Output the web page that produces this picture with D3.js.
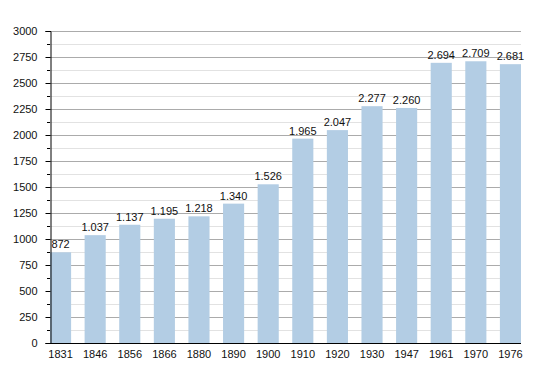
<!DOCTYPE html>
<html>
<head>
<meta charset="utf-8">
<script src="https://cdn.jsdelivr.net/npm/d3@7"></script>
<style>
  body { margin: 0; background: #fff; }
  text { font-family: "Liberation Sans", Arial, sans-serif; }
</style>
</head>
<body>
<div id="chart"></div>
<script>
// population by census year
const years = ["1831","1846","1856","1866","1880","1890","1900","1910","1920","1930","1947","1961","1970","1976"];
const population = [872, 1037, 1137, 1195, 1218, 1340, 1526, 1965, 2047, 2277, 2260, 2694, 2709, 2681];
const yTicks = d3.range(0, 3001, 250);
const yMinor = d3.range(125, 3000, 250);

const width = 550, height = 373;
const plotLeft = 50, plotRight = 521, plotTop = 31, plotBottom = 343;

const svg = d3.select('#chart').append('svg')
  .attr('width', width)
  .attr('height', height);

const x = d3.scaleBand()
  .domain(years)
  .range([plotLeft, plotRight])
  .paddingInner(0.39)
  .paddingOuter(0);

const y = d3.scaleLinear()
  .domain([0, 3000])
  .range([plotBottom, plotTop]);

// minor grid, lighter
svg.append('g').selectAll('line')
  .data(yMinor)
  .join('line')
    .attr('x1', plotLeft).attr('x2', plotRight)
    .attr('y1', d => y(d) + 0.5).attr('y2', d => y(d) + 0.5)
    .attr('stroke', '#e2e2e2');

// major grid
svg.append('g').selectAll('line')
  .data(yTicks.filter(d => d > 0))
  .join('line')
    .attr('x1', plotLeft).attr('x2', plotRight)
    .attr('y1', d => y(d) + 0.5).attr('y2', d => y(d) + 0.5)
    .attr('stroke', '#ababab');

// bars
svg.append('g').selectAll('rect')
  .data(population)
  .join('rect')
    .attr('x', (d, i) => x(years[i]))
    .attr('y', d => y(d))
    .attr('width', x.bandwidth())
    .attr('height', d => y(0) - y(d))
    .attr('fill', '#b3cde4');

// value labels, dot as thousands separator
const fmt = d => d >= 1000 ? Math.floor(d / 1000) + '.' + String(d % 1000).padStart(3, '0') : String(d);
svg.append('g').selectAll('text')
  .data(population)
  .join('text')
    .attr('x', (d, i) => x(years[i]) + x.bandwidth() / 2)
    .attr('y', d => y(d) - 4)
    .attr('text-anchor', 'middle')
    .attr('font-size', 11)
    .attr('fill', '#111')
    .text(fmt);

// y axis
const yAxis = d3.axisLeft(y).tickValues(yTicks).tickFormat(d3.format('d')).tickSize(5).tickPadding(8);
const gy = svg.append('g')
  .attr('transform', `translate(${plotLeft + 0.5},0)`)
  .call(yAxis);
gy.select('.domain').attr('stroke', '#000');
gy.selectAll('.tick text').attr('font-size', 11).attr('fill', '#111')
  .attr('font-family', '"Liberation Sans", Arial, sans-serif');

// minor ticks on the axis
svg.append('g').selectAll('line')
  .data(yMinor)
  .join('line')
    .attr('x1', plotLeft - 3).attr('x2', plotLeft)
    .attr('y1', d => y(d) + 0.5).attr('y2', d => y(d) + 0.5)
    .attr('stroke', '#000');

// x axis
const xAxis = d3.axisBottom(x).tickSize(0).tickPadding(7);
const gx = svg.append('g')
  .attr('transform', `translate(0,${plotBottom + 0.5})`)
  .call(xAxis);
gx.select('.domain').attr('d', `M${plotLeft},0H${plotRight}`).attr('stroke', '#000');
gx.selectAll('.tick text').attr('font-size', 11).attr('fill', '#111')
  .attr('font-family', '"Liberation Sans", Arial, sans-serif');
</script>
</body>
</html>
